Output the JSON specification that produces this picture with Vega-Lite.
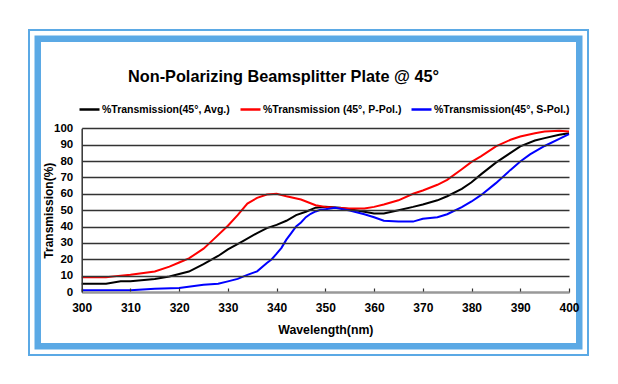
{
  "$schema": "https://vega.github.io/schema/vega-lite/v6.json",
  "width": 561,
  "height": 327,
  "autosize": "none",
  "padding": {"left": 28, "top": 29, "right": 0, "bottom": 0},
  "background": "white",
  "config": {"view": {"stroke": null}, "font": "Liberation Sans"},
  "title": {
    "text": "Non-Polarizing Beamsplitter Plate @ 45°",
    "anchor": "middle",
    "frame": "group",
    "dx": -25,
    "offset": -64,
    "baseline": "middle",
    "fontSize": 16.3,
    "fontWeight": "bold",
    "color": "#000000",
    "font": "Liberation Sans"
  },
  "resolve": {"scale": {"x": "independent", "y": "independent", "color": "independent"}},
  "layer": [
    {
      "data": {"values": [{"frame": "outer"}]},
      "mark": {"type": "rect", "clip": true, "filled": false, "color": "#5ba9e5", "strokeWidth": 26},
      "encoding": {}
    },
    {
      "data": {"values": [{"frame": "gap"}]},
      "mark": {"type": "rect", "clip": true, "filled": false, "color": "#ffffff", "strokeWidth": 13},
      "encoding": {}
    },
    {
      "data": {"values": [{"frame": "thin"}]},
      "mark": {"type": "rect", "clip": true, "filled": false, "color": "#5ba9e5", "strokeWidth": 4},
      "encoding": {}
    },
    {
      "data": {
        "values": [
          {"wl": 300, "series": "%Transmission(45°, Avg.)", "t": 5},
          {"wl": 305, "series": "%Transmission(45°, Avg.)", "t": 5},
          {"wl": 308, "series": "%Transmission(45°, Avg.)", "t": 6.5},
          {"wl": 310, "series": "%Transmission(45°, Avg.)", "t": 6.5},
          {"wl": 315, "series": "%Transmission(45°, Avg.)", "t": 8},
          {"wl": 318, "series": "%Transmission(45°, Avg.)", "t": 9.5},
          {"wl": 320, "series": "%Transmission(45°, Avg.)", "t": 11},
          {"wl": 322, "series": "%Transmission(45°, Avg.)", "t": 12.5},
          {"wl": 325, "series": "%Transmission(45°, Avg.)", "t": 17},
          {"wl": 328, "series": "%Transmission(45°, Avg.)", "t": 22},
          {"wl": 330, "series": "%Transmission(45°, Avg.)", "t": 26},
          {"wl": 333, "series": "%Transmission(45°, Avg.)", "t": 31},
          {"wl": 336, "series": "%Transmission(45°, Avg.)", "t": 36},
          {"wl": 338, "series": "%Transmission(45°, Avg.)", "t": 39},
          {"wl": 340, "series": "%Transmission(45°, Avg.)", "t": 41},
          {"wl": 342, "series": "%Transmission(45°, Avg.)", "t": 43.5},
          {"wl": 344, "series": "%Transmission(45°, Avg.)", "t": 47},
          {"wl": 346, "series": "%Transmission(45°, Avg.)", "t": 49},
          {"wl": 348, "series": "%Transmission(45°, Avg.)", "t": 51.5},
          {"wl": 350, "series": "%Transmission(45°, Avg.)", "t": 52},
          {"wl": 353, "series": "%Transmission(45°, Avg.)", "t": 51.5},
          {"wl": 355, "series": "%Transmission(45°, Avg.)", "t": 50.5},
          {"wl": 358, "series": "%Transmission(45°, Avg.)", "t": 49},
          {"wl": 360, "series": "%Transmission(45°, Avg.)", "t": 48},
          {"wl": 362, "series": "%Transmission(45°, Avg.)", "t": 48},
          {"wl": 365, "series": "%Transmission(45°, Avg.)", "t": 50},
          {"wl": 368, "series": "%Transmission(45°, Avg.)", "t": 52},
          {"wl": 370, "series": "%Transmission(45°, Avg.)", "t": 53.5},
          {"wl": 373, "series": "%Transmission(45°, Avg.)", "t": 56},
          {"wl": 375, "series": "%Transmission(45°, Avg.)", "t": 58.5},
          {"wl": 378, "series": "%Transmission(45°, Avg.)", "t": 63},
          {"wl": 380, "series": "%Transmission(45°, Avg.)", "t": 67},
          {"wl": 382, "series": "%Transmission(45°, Avg.)", "t": 72},
          {"wl": 385, "series": "%Transmission(45°, Avg.)", "t": 79},
          {"wl": 388, "series": "%Transmission(45°, Avg.)", "t": 85},
          {"wl": 390, "series": "%Transmission(45°, Avg.)", "t": 89},
          {"wl": 393, "series": "%Transmission(45°, Avg.)", "t": 92.5},
          {"wl": 395, "series": "%Transmission(45°, Avg.)", "t": 94},
          {"wl": 398, "series": "%Transmission(45°, Avg.)", "t": 96},
          {"wl": 400, "series": "%Transmission(45°, Avg.)", "t": 97},
          {"wl": 300, "series": "%Transmission (45°, P-Pol.)", "t": 9},
          {"wl": 305, "series": "%Transmission (45°, P-Pol.)", "t": 9},
          {"wl": 308, "series": "%Transmission (45°, P-Pol.)", "t": 10},
          {"wl": 310, "series": "%Transmission (45°, P-Pol.)", "t": 10.5},
          {"wl": 315, "series": "%Transmission (45°, P-Pol.)", "t": 12.5},
          {"wl": 318, "series": "%Transmission (45°, P-Pol.)", "t": 15.5},
          {"wl": 320, "series": "%Transmission (45°, P-Pol.)", "t": 18},
          {"wl": 322, "series": "%Transmission (45°, P-Pol.)", "t": 20.5},
          {"wl": 325, "series": "%Transmission (45°, P-Pol.)", "t": 26.5},
          {"wl": 327, "series": "%Transmission (45°, P-Pol.)", "t": 32},
          {"wl": 330, "series": "%Transmission (45°, P-Pol.)", "t": 40.5},
          {"wl": 332, "series": "%Transmission (45°, P-Pol.)", "t": 47},
          {"wl": 334, "series": "%Transmission (45°, P-Pol.)", "t": 54},
          {"wl": 336, "series": "%Transmission (45°, P-Pol.)", "t": 57.5},
          {"wl": 338, "series": "%Transmission (45°, P-Pol.)", "t": 59.5},
          {"wl": 340, "series": "%Transmission (45°, P-Pol.)", "t": 60},
          {"wl": 342, "series": "%Transmission (45°, P-Pol.)", "t": 58.5},
          {"wl": 345, "series": "%Transmission (45°, P-Pol.)", "t": 56.5},
          {"wl": 348, "series": "%Transmission (45°, P-Pol.)", "t": 53},
          {"wl": 350, "series": "%Transmission (45°, P-Pol.)", "t": 52},
          {"wl": 352, "series": "%Transmission (45°, P-Pol.)", "t": 51.5},
          {"wl": 355, "series": "%Transmission (45°, P-Pol.)", "t": 51},
          {"wl": 358, "series": "%Transmission (45°, P-Pol.)", "t": 51},
          {"wl": 360, "series": "%Transmission (45°, P-Pol.)", "t": 52},
          {"wl": 362, "series": "%Transmission (45°, P-Pol.)", "t": 53.5},
          {"wl": 365, "series": "%Transmission (45°, P-Pol.)", "t": 56},
          {"wl": 368, "series": "%Transmission (45°, P-Pol.)", "t": 60},
          {"wl": 370, "series": "%Transmission (45°, P-Pol.)", "t": 62},
          {"wl": 373, "series": "%Transmission (45°, P-Pol.)", "t": 65.5},
          {"wl": 375, "series": "%Transmission (45°, P-Pol.)", "t": 68.5},
          {"wl": 378, "series": "%Transmission (45°, P-Pol.)", "t": 75},
          {"wl": 380, "series": "%Transmission (45°, P-Pol.)", "t": 79.5},
          {"wl": 382, "series": "%Transmission (45°, P-Pol.)", "t": 83},
          {"wl": 385, "series": "%Transmission (45°, P-Pol.)", "t": 89},
          {"wl": 388, "series": "%Transmission (45°, P-Pol.)", "t": 93},
          {"wl": 390, "series": "%Transmission (45°, P-Pol.)", "t": 95},
          {"wl": 393, "series": "%Transmission (45°, P-Pol.)", "t": 97},
          {"wl": 395, "series": "%Transmission (45°, P-Pol.)", "t": 98},
          {"wl": 398, "series": "%Transmission (45°, P-Pol.)", "t": 98.5},
          {"wl": 400, "series": "%Transmission (45°, P-Pol.)", "t": 98},
          {"wl": 300, "series": "%Transmission(45°, S-Pol.)", "t": 1},
          {"wl": 310, "series": "%Transmission(45°, S-Pol.)", "t": 1},
          {"wl": 315, "series": "%Transmission(45°, S-Pol.)", "t": 2},
          {"wl": 320, "series": "%Transmission(45°, S-Pol.)", "t": 2.5},
          {"wl": 325, "series": "%Transmission(45°, S-Pol.)", "t": 4.5},
          {"wl": 328, "series": "%Transmission(45°, S-Pol.)", "t": 5},
          {"wl": 330, "series": "%Transmission(45°, S-Pol.)", "t": 6.5},
          {"wl": 332, "series": "%Transmission(45°, S-Pol.)", "t": 8},
          {"wl": 334, "series": "%Transmission(45°, S-Pol.)", "t": 10.5},
          {"wl": 336, "series": "%Transmission(45°, S-Pol.)", "t": 12.6},
          {"wl": 338, "series": "%Transmission(45°, S-Pol.)", "t": 17.7},
          {"wl": 339, "series": "%Transmission(45°, S-Pol.)", "t": 20},
          {"wl": 340, "series": "%Transmission(45°, S-Pol.)", "t": 23.4},
          {"wl": 341, "series": "%Transmission(45°, S-Pol.)", "t": 27},
          {"wl": 342, "series": "%Transmission(45°, S-Pol.)", "t": 32},
          {"wl": 343, "series": "%Transmission(45°, S-Pol.)", "t": 36},
          {"wl": 344, "series": "%Transmission(45°, S-Pol.)", "t": 40},
          {"wl": 345, "series": "%Transmission(45°, S-Pol.)", "t": 42.5},
          {"wl": 346, "series": "%Transmission(45°, S-Pol.)", "t": 45.7},
          {"wl": 347, "series": "%Transmission(45°, S-Pol.)", "t": 47.8},
          {"wl": 348, "series": "%Transmission(45°, S-Pol.)", "t": 49.2},
          {"wl": 349, "series": "%Transmission(45°, S-Pol.)", "t": 50.2},
          {"wl": 350, "series": "%Transmission(45°, S-Pol.)", "t": 50.6},
          {"wl": 352, "series": "%Transmission(45°, S-Pol.)", "t": 51.5},
          {"wl": 355, "series": "%Transmission(45°, S-Pol.)", "t": 49.8},
          {"wl": 358, "series": "%Transmission(45°, S-Pol.)", "t": 47.5},
          {"wl": 360, "series": "%Transmission(45°, S-Pol.)", "t": 45.7},
          {"wl": 362, "series": "%Transmission(45°, S-Pol.)", "t": 43.5},
          {"wl": 365, "series": "%Transmission(45°, S-Pol.)", "t": 43},
          {"wl": 368, "series": "%Transmission(45°, S-Pol.)", "t": 43},
          {"wl": 370, "series": "%Transmission(45°, S-Pol.)", "t": 44.7},
          {"wl": 373, "series": "%Transmission(45°, S-Pol.)", "t": 45.7},
          {"wl": 375, "series": "%Transmission(45°, S-Pol.)", "t": 47.5},
          {"wl": 378, "series": "%Transmission(45°, S-Pol.)", "t": 51.8},
          {"wl": 380, "series": "%Transmission(45°, S-Pol.)", "t": 55.3},
          {"wl": 382, "series": "%Transmission(45°, S-Pol.)", "t": 59.3},
          {"wl": 385, "series": "%Transmission(45°, S-Pol.)", "t": 66.5},
          {"wl": 388, "series": "%Transmission(45°, S-Pol.)", "t": 74.6},
          {"wl": 390, "series": "%Transmission(45°, S-Pol.)", "t": 79.7},
          {"wl": 392, "series": "%Transmission(45°, S-Pol.)", "t": 84.1},
          {"wl": 395, "series": "%Transmission(45°, S-Pol.)", "t": 89.2},
          {"wl": 398, "series": "%Transmission(45°, S-Pol.)", "t": 93.5},
          {"wl": 400, "series": "%Transmission(45°, S-Pol.)", "t": 96.5}
        ]
      },
      "mark": {"type": "line", "strokeWidth": 2},
      "encoding": {
        "x": {
          "field": "wl",
          "type": "quantitative",
          "scale": {"domain": [300, 400], "range": [53.7, 541], "nice": false, "zero": false},
          "axis": {
            "title": "Wavelength(nm)",
            "values": [300, 310, 320, 330, 340, 350, 360, 370, 380, 390, 400],
            "grid": false,
            "offset": -64,
            "zindex": 1,
            "domainColor": "#999999",
            "domainWidth": 2,
            "tickColor": "#333333",
            "tickSize": -4,
            "tickWidth": 1.2,
            "labelPadding": 14,
            "labelFontSize": 12,
            "labelFontWeight": "bold",
            "labelColor": "#000000",
            "labelFlush": false,
            "labelOverlap": false,
            "titleFontSize": 12.3,
            "titleFontWeight": "bold",
            "titleColor": "#000000",
            "titlePadding": 10
          }
        },
        "y": {
          "field": "t",
          "type": "quantitative",
          "scale": {"domain": [0, 100], "range": [263, 99.3], "nice": false},
          "axis": {
            "title": "Transmission(%)",
            "values": [0, 10, 20, 30, 40, 50, 60, 70, 80, 90, 100],
            "grid": true,
            "gridColor": "#333333",
            "gridWidth": 1.4,
            "offset": -53.7,
            "zindex": 1,
            "domainColor": "#333333",
            "domainWidth": 1.5,
            "ticks": false,
            "labelPadding": 9,
            "labelFontSize": 11.5,
            "labelFontWeight": "bold",
            "labelColor": "#000000",
            "labelFlush": false,
            "labelOverlap": false,
            "titleFontSize": 12,
            "titleFontWeight": "bold",
            "titleColor": "#000000",
            "titlePadding": -2
          }
        },
        "color": {
          "field": "series",
          "type": "nominal",
          "scale": {
            "domain": ["%Transmission(45°, Avg.)", "%Transmission (45°, P-Pol.)", "%Transmission(45°, S-Pol.)"],
            "range": ["#000000", "#ff0000", "#0000ff"]
          },
          "legend": {
            "orient": "none",
            "legendX": 50,
            "legendY": 69,
            "direction": "horizontal",
            "title": null,
            "symbolType": "stroke",
            "symbolSize": 400,
            "symbolStrokeWidth": 2.5,
            "labelFontSize": 10.5,
            "labelFontWeight": "bold",
            "labelColor": "#000000",
            "labelOffset": 1,
            "labelLimit": 300,
            "columnPadding": 4
          }
        }
      }
    }
  ]
}
